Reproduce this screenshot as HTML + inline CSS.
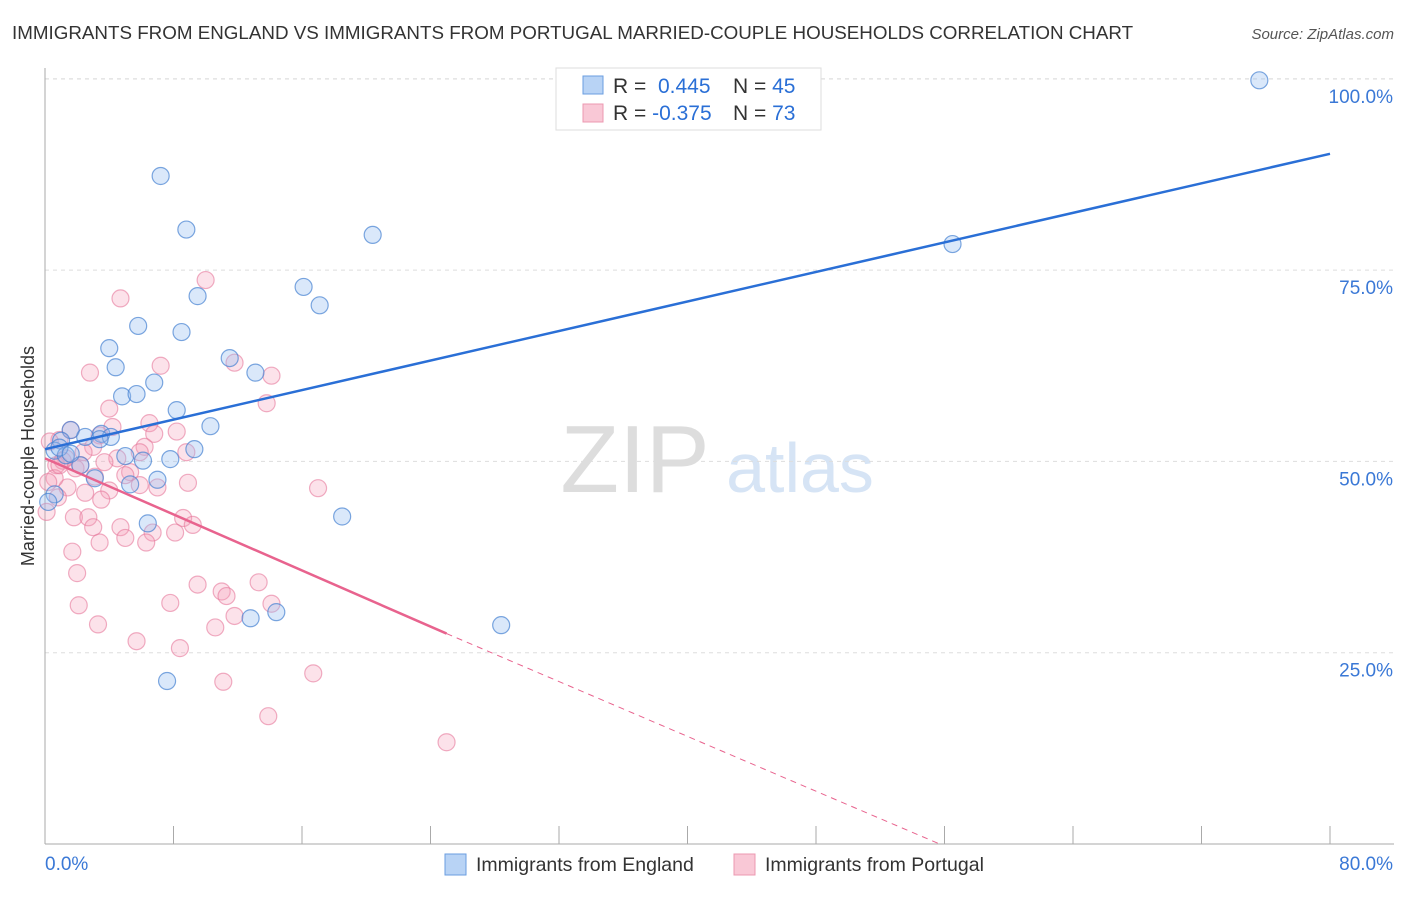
<!DOCTYPE html>
<html><head><meta charset="utf-8"><style>
body{margin:0;background:#fff;font-family:"Liberation Sans",sans-serif}
svg text{font-family:"Liberation Sans",sans-serif}
</style></head><body>
<svg id="c" width="1406" height="892">
<text x="12" y="39" font-size="18.8" fill="#333">IMMIGRANTS FROM ENGLAND VS IMMIGRANTS FROM PORTUGAL MARRIED-COUPLE HOUSEHOLDS CORRELATION CHART</text>
<text x="1394" y="39" font-size="15" fill="#555" font-style="italic" text-anchor="end">Source: ZipAtlas.com</text>
<text x="635" y="492" font-size="96" fill="#ddd" font-family="Liberation Serif" text-anchor="middle">ZIP</text>
<text x="800" y="492" font-size="70" fill="#d6e4f5" text-anchor="middle">atlas</text>
<text transform="translate(34,456) rotate(-90)" font-size="18" fill="#333" text-anchor="middle">Married-couple Households</text>
<g id="grid"></g><g id="pts"></g><g id="lines"></g>
<g>
<rect x="556" y="68" width="265" height="62" fill="#fff" stroke="#ddd"/>
<rect x="583" y="76" width="20" height="18" fill="#b8d3f5" stroke="#6a9ee0"/>
<rect x="583" y="104" width="20" height="18" fill="#f9c8d6" stroke="#ec98b0"/>
<text x="613" y="93" font-size="21" fill="#333">R = <tspan fill="#2a6fd6">&#160;0.445</tspan><tspan x="733">N = </tspan><tspan fill="#2a6fd6">45</tspan></text>
<text x="613" y="120" font-size="21" fill="#333">R = <tspan fill="#2a6fd6">-0.375</tspan><tspan x="733">N = </tspan><tspan fill="#2a6fd6">73</tspan></text>
</g>
<g>
<rect x="445" y="854" width="21" height="21" fill="#b8d3f5" stroke="#6a9ee0"/>
<text x="476" y="871" font-size="19.5" fill="#333">Immigrants from England</text>
<rect x="734" y="854" width="21" height="21" fill="#f9c8d6" stroke="#ec98b0"/>
<text x="765" y="871" font-size="19.5" fill="#333">Immigrants from Portugal</text>
</g>
</svg>
<script>
const yTicks=[25,50,75,100];
const yTickLabels=["25.0%","50.0%","75.0%","100.0%"];
const xTicks=[0,8,16,24,32,40,48,56,64,72,80];
const blueX=[75.6,7.2,8.8,20.4,56.5,16.1,9.5,17.1,5.8,8.5,4.0,11.5,4.4,13.1,6.8,4.8,5.7,8.2,10.3,1.6,1.0,2.5,3.5,4.1,9.3,0.6,1.3,5.0,6.1,7.8,2.2,3.1,7.0,5.3,0.6,0.2,18.5,6.4,14.4,12.8,28.4,7.6,0.9,1.6,3.4];
const blueY=[99.8,87.3,80.3,79.6,78.4,72.8,71.6,70.4,67.7,66.9,64.8,63.5,62.3,61.6,60.3,58.5,58.8,56.7,54.6,54.1,52.7,53.2,53.6,53.2,51.6,51.4,50.8,50.7,50.1,50.3,49.5,47.8,47.6,47.0,45.7,44.7,42.8,41.9,30.3,29.5,28.6,21.3,51.8,51.0,52.9];
const pinkX=[10.0,4.7,7.2,2.8,11.8,14.1,13.8,4.0,6.5,4.2,1.6,8.2,6.8,3.4,0.9,0.3,6.2,8.8,3.0,2.4,1.3,4.5,3.7,0.7,1.9,5.3,7.0,8.9,5.9,4.0,1.4,0.6,0.2,3.5,2.5,17.0,0.8,0.1,1.8,2.7,8.6,4.7,3.0,6.7,5.0,8.1,9.2,6.3,3.4,1.7,2.0,9.5,13.3,11.0,11.3,7.8,2.1,14.1,11.8,3.3,10.6,5.7,8.4,11.1,16.7,13.9,25.0,1.1,2.2,5.0,0.9,5.9,3.1];
const pinkY=[73.7,71.3,62.5,61.6,62.9,61.2,57.6,56.9,55.0,54.5,54.1,53.9,53.6,53.4,52.8,52.6,51.9,51.2,51.9,51.2,50.4,50.4,49.9,49.5,49.1,48.6,46.6,47.2,46.9,46.2,46.6,47.8,47.3,45.0,45.9,46.5,45.3,43.4,42.7,42.7,42.6,41.4,41.4,40.7,40.0,40.7,41.7,39.4,39.4,38.2,35.4,33.9,34.2,33.0,32.4,31.5,31.2,31.4,29.8,28.7,28.3,26.5,25.6,21.2,22.3,16.7,13.3,50.1,49.5,48.2,49.5,51.2,48.0];
const blueLine=[[0,51.6],[80,90.2]];
const pinkLine=[[0,50.4],[25,27.5]];
const pinkDash=[[25,27.5],[55.7,0]];
const sx=v=>45+v*(1285/80), sy=v=>844-v*7.652;
const NS="http://www.w3.org/2000/svg";
function mk(t,a,p){const e=document.createElementNS(NS,t);for(const k in a)e.setAttribute(k,a[k]);p.appendChild(e);return e;}
const g=document.getElementById('grid');
yTicks.forEach((t,i)=>{const l=mk('line',{x1:45,x2:1394,y1:sy(t),y2:sy(t),stroke:'#ddd','stroke-dasharray':'4,4'},g);


const tx=mk('text',{x:1393,y:sy(t)+24,'font-size':19,fill:'#3a78d6','text-anchor':'end'},g);tx.textContent=yTickLabels[i];

});
const topLine=mk('line',{x1:45,x2:1394,y1:79,y2:79,stroke:'#ddd','stroke-dasharray':'4,4'},g);


const ya=mk('line',{x1:45,x2:45,y1:68,y2:844,stroke:'#aaa'},g);


const xa=mk('line',{x1:45,x2:1394,y1:844,y2:844,stroke:'#aaa'},g);


xTicks.forEach(t=>{const l=mk('line',{x1:sx(t),x2:sx(t),y1:826,y2:844,stroke:'#aaa'},g);

});
const xl0=mk('text',{x:45,y:870,'font-size':19,fill:'#3a78d6'},g);xl0.textContent='0.0%';


const xl1=mk('text',{x:1393,y:870,'font-size':19,fill:'#3a78d6','text-anchor':'end'},g);xl1.textContent='80.0%';


const p=document.getElementById('pts');
pinkX.forEach((x,i)=>{const c=mk('circle',{cx:sx(x),cy:sy(pinkY[i]),r:8.5,fill:'rgba(244,160,186,0.3)',stroke:'rgba(230,120,155,0.6)','stroke-width':1.2},p);

});
blueX.forEach((x,i)=>{const c=mk('circle',{cx:sx(x),cy:sy(blueY[i]),r:8.5,fill:'rgba(150,190,240,0.35)',stroke:'rgba(70,130,210,0.7)','stroke-width':1.2},p);

});
const L=document.getElementById('lines');
const bl=mk('line',{x1:sx(blueLine[0][0]),y1:sy(blueLine[0][1]),x2:sx(blueLine[1][0]),y2:sy(blueLine[1][1]),stroke:'#2a6fd6','stroke-width':2.5},L);


const pl=mk('line',{x1:sx(pinkLine[0][0]),y1:sy(pinkLine[0][1]),x2:sx(pinkLine[1][0]),y2:sy(pinkLine[1][1]),stroke:'#e8638e','stroke-width':2.5},L);


const pd=mk('line',{x1:sx(pinkDash[0][0]),y1:sy(pinkDash[0][1]),x2:sx(pinkDash[1][0]),y2:sy(pinkDash[1][1]),stroke:'#e8638e','stroke-width':1,'stroke-dasharray':'6,5'},L);


</script>
</body></html>
